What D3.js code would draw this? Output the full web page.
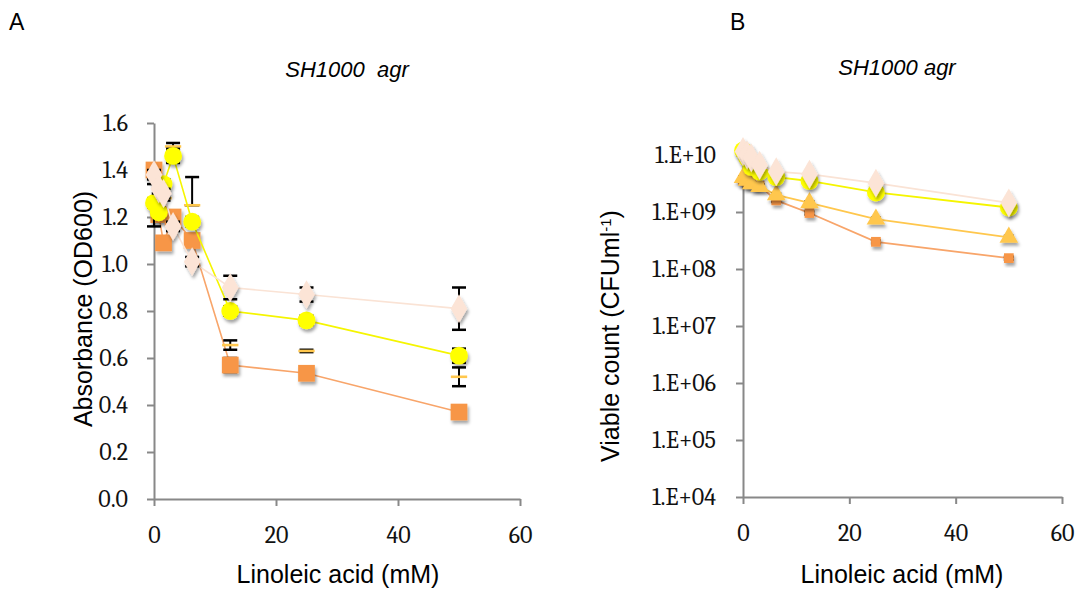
<!DOCTYPE html>
<html><head><meta charset="utf-8">
<script src="https://cdn.jsdelivr.net/npm/d3@7"></script>
<style>
body{margin:0;background:#fff;}
svg{display:block;}
</style></head>
<body>
<svg id="chart" width="1087" height="592"></svg>
<script>
// ---------- data ----------
const concentrations = [0, 0.78, 1.56, 3.125, 6.25, 12.5, 25, 50];
const xTicks = [0, 20, 40, 60];
const absTicks = [0.0, 0.2, 0.4, 0.6, 0.8, 1.0, 1.2, 1.4, 1.6];
const cfuTicks = [1e4, 1e5, 1e6, 1e7, 1e8, 1e9, 1e10];

// Panel A: absorbance (OD600)  (value, +err, -err)
const absSquare     = [1.40, 1.21, 1.09, 1.20, 1.10, 0.57, 0.535, 0.37];
const absSquareUp   = [0.02, 0.02, 0.02, 0.02, 0.02, 0.03, 0.02, 0.02];
const absSquareDn   = [0.02, 0.02, 0.02, 0.02, 0.02, 0.03, 0.02, 0.02];
const absTriangle   = [1.25, 1.22, 1.28, 1.50, 1.25, 0.655, 0.63, 0.52];
const absTriangleUp = [0.09, 0.01, 0.01, 0.015, 0.12, 0.02, 0.005, 0.04];
const absTriangleDn = [0.09, 0.01, 0.01, 0.015, 0.00, 0.02, 0.005, 0.04];
const absCircle     = [1.26, 1.22, 1.34, 1.46, 1.18, 0.80, 0.76, 0.61];
const absCircleUp   = [0.02, 0.02, 0.02, 0.03, 0.02, 0.02, 0.02, 0.03];
const absCircleDn   = [0.02, 0.02, 0.02, 0.03, 0.02, 0.02, 0.02, 0.03];
const absDiamond    = [1.38, 1.32, 1.30, 1.16, 1.01, 0.90, 0.87, 0.81];
const absDiamondUp  = [0.02, 0.02, 0.02, 0.02, 0.02, 0.05, 0.03, 0.09];
const absDiamondDn  = [0.02, 0.02, 0.02, 0.02, 0.02, 0.05, 0.03, 0.09];

// Panel B: viable count (CFU/ml)
const cfuSquare   = [3.6e9, 3.4e9, 3.1e9, 2.9e9, 1.6e9, 9.6e8, 3.0e8, 1.55e8];
const cfuTriangle = [4.0e9, 3.6e9, 3.1e9, 2.8e9, 2.0e9, 1.45e9, 7.5e8, 3.6e8];
const cfuCircle   = [1.2e10, 8.9e9, 6.2e9, 5.1e9, 4.1e9, 3.5e9, 2.2e9, 1.2e9];
const cfuDiamond  = [1.15e10, 1.0e10, 8.9e9, 6.6e9, 5.1e9, 4.6e9, 3.2e9, 1.45e9];
const cfuErrFrac  = [0.06, 0.06, 0.06, 0.06, 0.06, 0.06, 0.06, 0.06];

// ---------- styles ----------
const C = {
  square:"#F79646", squareLine:"#F8A56A",
  triangle:"#FFC74D", triangleLine:"#FFC74D",
  circle:"#FFFF00", circleLine:"#F5F500",
  diamond:"#FCE4D6", diamondLine:"#FAE3D5",
  axis:"#888888"
};
const serif = "Cambria, 'Liberation Serif', 'DejaVu Serif', serif";
const sans = "'Liberation Sans', Arial, sans-serif";

const svg = d3.select("#chart");
const defs = svg.append("defs");
const f = defs.append("filter").attr("id","sh").attr("x","-50%").attr("y","-50%").attr("width","200%").attr("height","200%");
f.append("feDropShadow").attr("dx",1.5).attr("dy",3).attr("stdDeviation",1.5).attr("flood-color","#000").attr("flood-opacity",0.35);

// dash marker (Excel "—")
const symbolDash = { draw(ctx, size){ const w = Math.sqrt(size)*2.2, h = Math.sqrt(size)*0.35; ctx.rect(-w/2,-h/2,w,h); } };

// panel letters & titles
svg.append("text").attr("x",9).attr("y",30).attr("font-family",sans).attr("font-size",23).text("A");
svg.append("text").attr("x",730).attr("y",30).attr("font-family",sans).attr("font-size",23).text("B");
svg.append("text").attr("x",347).attr("y",77).attr("text-anchor","middle").attr("font-family",sans).attr("font-style","italic").attr("font-size",22).style("white-space","pre").text("SH1000  agr");
svg.append("text").attr("x",897).attr("y",75).attr("text-anchor","middle").attr("font-family",sans).attr("font-style","italic").attr("font-size",22).text("SH1000 agr");

function styleAxis(g){
  g.select(".domain").attr("stroke",C.axis).attr("stroke-width",2);
  g.selectAll(".tick line").attr("stroke",C.axis).attr("stroke-width",2);
  g.selectAll(".tick text").attr("font-family",serif).attr("font-size",24).attr("fill","#111");
}

// ---------- Panel A ----------
const xA = d3.scaleLinear().domain([0,60]).range([154,520]);
const yA = d3.scaleLinear().domain([0,1.6]).range([499,123]);

const gxA = svg.append("g").attr("transform",`translate(0,${yA(0)})`)
  .call(d3.axisBottom(xA).tickValues(xTicks).tickSize(7).tickSizeOuter(0).tickPadding(20).tickFormat(d3.format("d")));
styleAxis(gxA);
const gyA = svg.append("g").attr("transform",`translate(${xA(0)},0)`)
  .call(d3.axisLeft(yA).tickValues(absTicks).tickSize(7).tickSizeOuter(0).tickPadding(19).tickFormat(d3.format(".1f")));
styleAxis(gyA);

svg.append("text").attr("x",338).attr("y",583).attr("text-anchor","middle").attr("font-family",sans).attr("font-size",25).text("Linoleic acid (mM)");
svg.append("text").attr("transform","translate(92,309) rotate(-90)").attr("text-anchor","middle").attr("font-family",sans).attr("font-size",25).text("Absorbance (OD600)");

// ---------- Panel B ----------
const xB = d3.scaleLinear().domain([0,60]).range([743,1062]);
const yB = d3.scaleLog().domain([1e4,1e10]).range([497,155]);

const gxB = svg.append("g").attr("transform",`translate(0,${yB(1e4)})`)
  .call(d3.axisBottom(xB).tickValues(xTicks).tickSize(7).tickSizeOuter(0).tickPadding(20).tickFormat(d3.format("d")));
styleAxis(gxB);
const gyB = svg.append("g").attr("transform",`translate(${xB(0)},0)`)
  .call(d3.axisLeft(yB).tickValues(cfuTicks).tickSize(7).tickSizeOuter(0).tickPadding(20)
    .tickFormat(d => "1.E+" + String(Math.round(Math.log10(d))).padStart(2,"0")));
styleAxis(gyB);

svg.append("text").attr("x",902).attr("y",583).attr("text-anchor","middle").attr("font-family",sans).attr("font-size",25).text("Linoleic acid (mM)");
const yt = svg.append("text").attr("transform","translate(619,336) rotate(-90)").attr("text-anchor","middle").attr("font-family",sans).attr("font-size",25);
yt.append("tspan").text("Viable count (CFUml");
yt.append("tspan").attr("dy",-8).attr("font-size",15).text("-1");
yt.append("tspan").attr("dy",8).text(")");

// ---------- drawing helpers ----------
function drawSeries(opts){
  const {xs, ys, lo, hi, x, y, color, lineColor, lineWidth, shape, size, errColor, capW, drawLine, shadow} = opts;
  const g = svg.append("g");
  const pts = xs.map((v,i)=>({x:v, y:ys[i], lo:lo[i], hi:hi[i]}));
  if(drawLine){
    g.append("path").datum(pts).attr("fill","none").attr("stroke",lineColor).attr("stroke-width",lineWidth)
      .attr("d", d3.line().x(d=>x(d.x)).y(d=>y(d.y)));
  }
  const eb = g.selectAll("g.eb").data(pts).join("g");
  eb.append("line").attr("x1",d=>x(d.x)).attr("x2",d=>x(d.x)).attr("y1",d=>y(d.lo)).attr("y2",d=>y(d.hi)).attr("stroke",errColor).attr("stroke-width",2);
  eb.append("line").attr("x1",d=>x(d.x)-capW).attr("x2",d=>x(d.x)+capW).attr("y1",d=>y(d.lo)).attr("y2",d=>y(d.lo)).attr("stroke",errColor).attr("stroke-width",2.5);
  eb.append("line").attr("x1",d=>x(d.x)-capW).attr("x2",d=>x(d.x)+capW).attr("y1",d=>y(d.hi)).attr("y2",d=>y(d.hi)).attr("stroke",errColor).attr("stroke-width",2.5);
  const m = g.selectAll("path.m").data(pts).join("path")
    .attr("transform",d=>`translate(${x(d.x)},${y(d.y)})`)
    .attr("d", d3.symbol().type(shape).size(size))
    .attr("fill",color);
  if(shadow) m.attr("filter","url(#sh)");
}

// Panel A series
const seriesA = [
  {ys:absSquare, up:absSquareUp, dn:absSquareDn, color:C.square, line:C.squareLine, shape:d3.symbolSquare, size:280, showLine:true, shadow:true},
  {ys:absTriangle, up:absTriangleUp, dn:absTriangleDn, color:C.triangle, line:C.triangleLine, shape:symbolDash, size:55, showLine:false, shadow:false},
  {ys:absCircle, up:absCircleUp, dn:absCircleDn, color:C.circle, line:C.circleLine, shape:d3.symbolCircle, size:250, showLine:true, shadow:true},
  {ys:absDiamond, up:absDiamondUp, dn:absDiamondDn, color:C.diamond, line:C.diamondLine, shape:d3.symbolDiamond, size:240, showLine:true, shadow:true}
];
seriesA.forEach(s=>{
  drawSeries({xs:concentrations, ys:s.ys, lo:s.ys.map((v,i)=>v-s.dn[i]), hi:s.ys.map((v,i)=>v+s.up[i]),
    x:xA, y:yA, color:s.color, lineColor:s.line, lineWidth:1.6, shape:s.shape, size:s.size,
    errColor:"#000", capW:7, drawLine:s.showLine, shadow:s.shadow});
});

// Panel B series
const seriesB = [
  {ys:cfuSquare, color:C.square, line:C.squareLine, shape:d3.symbolSquare, size:95},
  {ys:cfuTriangle, color:C.triangle, line:C.triangleLine, shape:d3.symbolTriangle, size:150},
  {ys:cfuCircle, color:C.circle, line:C.circleLine, shape:d3.symbolCircle, size:250},
  {ys:cfuDiamond, color:C.diamond, line:C.diamondLine, shape:d3.symbolDiamond, size:240}
];
seriesB.forEach(s=>{
  drawSeries({xs:concentrations, ys:s.ys, lo:s.ys.map((v,i)=>v*(1-cfuErrFrac[i])), hi:s.ys.map((v,i)=>v*(1+cfuErrFrac[i])),
    x:xB, y:yB, color:s.color, lineColor:s.line, lineWidth:1.8, shape:s.shape, size:s.size,
    errColor:"#000", capW:5, drawLine:true, shadow:true});
});
</script>
</body></html>
